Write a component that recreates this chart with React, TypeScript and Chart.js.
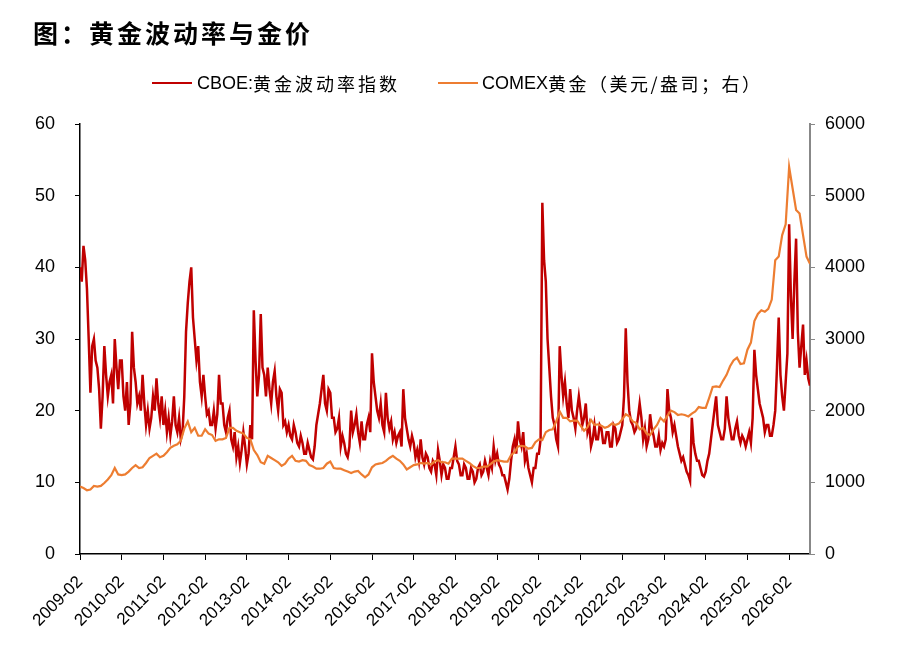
import { useEffect, useRef } from 'react'
import { Chart, ChartConfiguration, registerables } from 'chart.js'

Chart.register(...registerables)

// x axis: months counted from 2009-02 (0) to 2026-08 (210)
const tickLabels = [
  '2009-02', '2010-02', '2011-02', '2012-02', '2013-02', '2014-02',
  '2015-02', '2016-02', '2017-02', '2018-02', '2019-02', '2020-02',
  '2021-02', '2022-02', '2023-02', '2024-02', '2025-02', '2026-02',
]

// CBOE 黄金波动率指数, two readings per month (start, mid), one row = Feb..Jan
const cboeVol = [
  40, 38, 43, 41, 37, 30, 22.5, 29, 30, 27, 26, 23, 17.5, 22, 29, 25, 22, 24, 25, 21, 30, 26, 23, 27, // 2009
  27, 22, 20, 24, 18, 21, 31, 26, 24, 21, 22, 20, 25, 21, 18, 20, 17.5, 19, 22, 20, 24.5, 21, 19, 22, // 2010
  18, 20, 17, 19, 16.5, 18.5, 22, 18, 17, 19, 16, 17, 22, 31, 35, 38, 40, 33, 30, 27, 29, 24, 22, 25, // 2011
  22, 19.5, 20, 18, 18, 20, 17.5, 19.5, 25, 21, 21, 18, 17, 19, 20, 16, 15, 17, 13.5, 15, 12.7, 14.5, 17, 15, // 2012
  12.5, 14, 18, 16, 34, 27, 22, 25, 33.5, 26, 25, 22, 26, 23, 21, 24, 25.5, 22, 20, 23, 22.5, 18, 18.5, 17, // 2013
  18, 16.5, 16, 18, 17, 15.5, 15, 16.5, 15.5, 14, 14, 15.5, 14.5, 13.5, 13.2, 15, 18, 19.5, 21, 23, 25, 21, 20, 23, // 2014
  22.5, 19, 19, 17, 17.5, 19, 15, 16.5, 15.5, 14, 13.5, 15, 20, 17, 18, 19.5, 17, 15.5, 18.5, 16, 16, 18, 19, 17, // 2015
  28, 24, 22, 20, 19, 21, 18, 17, 22.5, 19, 17.5, 18.5, 16, 17, 15.5, 16.5, 17, 15, 23, 19, 17.5, 16, 15, 16.5, // 2016
  15.5, 13.5, 14.5, 13, 16, 13.5, 12.5, 14, 13.5, 12, 11.5, 13, 12.5, 11, 14.5, 13, 11, 12.5, 12, 10.5, 10.5, 12, 12, 13.5, // 2017
  15, 13, 12.5, 11, 11, 12.5, 12, 10.5, 10.5, 12, 11.5, 10, 10.5, 12, 12.5, 11, 11.5, 13, 12, 11, 13, 12, 15, 13, // 2018
  14, 12.5, 12, 11, 11, 10, 9, 10.5, 13, 15, 16, 14, 18.5, 16, 15, 17, 13, 14, 12, 11, 10, 12, 12, 14, // 2019
  14, 16, 49, 41, 38, 30, 26, 22, 19, 18, 16, 15, 29, 25, 22, 24, 21, 19, 23, 20, 19, 17.5, 20, 22, // 2020
  20, 18, 19, 21, 17, 18, 15, 16, 18, 16, 16, 18, 17.5, 15.5, 15.5, 17, 17, 15, 15, 18, 17.5, 15.5, 16, 17, // 2021
  18, 22, 31.5, 24, 20, 18.5, 18, 17, 17.5, 19, 21, 19, 16, 17.5, 15, 16, 19.5, 17.5, 16.5, 15, 15, 16.5, 14.5, 15.5, // 2022
  15, 16, 23, 20, 19, 17, 18, 16.5, 15, 14, 13, 13.5, 12.5, 11.5, 11, 10.2, 19, 15.5, 14, 13, 13, 12, 11, 10.8, // 2023
  11.5, 13, 14, 16, 18, 20, 22, 18, 17, 16, 16, 17.5, 22, 19, 17.5, 16, 16, 17.5, 18.5, 16.5, 15.5, 16.5, 16, 15, // 2024
  16, 17, 15.5, 19, 28.5, 25, 23, 21, 20, 19, 17, 18, 18, 16.5, 16.5, 18, 20, 26, 33, 25, 22, 20, 24, 28, // 2025
  46, 36, 30, 38, 44, 31, 26, 29, 32, 25, 27, 24.5, 23.5, // 2026
]

// COMEX 黄金 (美元/盎司), one reading per month, one row = Feb..Jan
const comexGold = [
  940, 920, 890, 900, 950, 940, 950, 990, 1040, 1100, 1200, 1110, // 2009
  1100, 1110, 1150, 1200, 1240, 1200, 1210, 1270, 1340, 1370, 1400, 1350, // 2010
  1370, 1420, 1480, 1510, 1530, 1580, 1750, 1850, 1700, 1760, 1650, 1650, // 2011
  1740, 1680, 1660, 1580, 1600, 1600, 1620, 1760, 1760, 1720, 1700, 1680, // 2012
  1620, 1600, 1450, 1380, 1280, 1260, 1370, 1340, 1310, 1280, 1230, 1260, // 2013
  1330, 1370, 1300, 1290, 1310, 1300, 1240, 1220, 1190, 1190, 1200, 1260, // 2014
  1290, 1200, 1190, 1190, 1170, 1150, 1130, 1150, 1160, 1110, 1070, 1110, // 2015
  1210, 1250, 1260, 1270, 1300, 1340, 1370, 1330, 1300, 1250, 1180, 1210, // 2016
  1240, 1250, 1270, 1260, 1270, 1250, 1290, 1310, 1280, 1280, 1260, 1330, // 2017
  1330, 1330, 1330, 1300, 1270, 1230, 1200, 1200, 1220, 1220, 1250, 1290, // 2018
  1310, 1300, 1290, 1290, 1380, 1420, 1500, 1510, 1500, 1470, 1480, 1560, // 2019
  1600, 1590, 1700, 1730, 1740, 1850, 1990, 1900, 1900, 1850, 1860, 1860, // 2020
  1790, 1720, 1770, 1870, 1800, 1810, 1790, 1760, 1780, 1820, 1800, 1820, // 2021
  1880, 1950, 1920, 1850, 1830, 1740, 1760, 1680, 1660, 1740, 1800, 1900, // 2022
  1850, 1930, 2000, 1980, 1940, 1950, 1940, 1920, 1960, 1990, 2050, 2040, // 2023
  2040, 2180, 2330, 2340, 2330, 2420, 2500, 2620, 2700, 2740, 2650, 2660, // 2024
  2850, 2950, 3250, 3350, 3400, 3380, 3420, 3550, 4100, 4150, 4450, 4600, // 2025
  5400, 5100, 4800, 4750, 4450, 4150, 4050, // 2026
]

const RED = '#C00000'
const ORANGE = '#ED7D31'
const tickFont = { family: "'Liberation Sans', Arial, sans-serif", size: 17 }

export default function App() {
  const chartRef = useRef<HTMLCanvasElement>(null)
  const chartInstance = useRef<Chart | null>(null)

  useEffect(() => {
    document.body.style.margin = '0'
    if (!chartRef.current) return
    if (chartInstance.current) chartInstance.current.destroy()

    const config: ChartConfiguration = {
      type: 'line',
      data: {
        datasets: [
          {
            label: 'CBOE:黄金波动率指数',
            data: cboeVol.map((v, i) => ({ x: i / 2, y: v })),
            borderColor: RED,
            borderWidth: 2.5,
            pointRadius: 0,
            yAxisID: 'y',
            order: 1,
          },
          {
            label: 'COMEX黄金（美元/盎司；右）',
            data: comexGold.map((v, i) => ({ x: i, y: v })),
            borderColor: ORANGE,
            borderWidth: 2.2,
            pointRadius: 0,
            yAxisID: 'y1',
            order: 0,
          },
        ],
      },
      options: {
        responsive: false,
        animation: false,
        layout: { padding: { top: 124, left: 0, right: 0, bottom: 0 } },
        plugins: { legend: { display: false }, title: { display: false }, tooltip: { enabled: false } },
        scales: {
          x: {
            type: 'linear',
            min: 0,
            max: 210,
            afterFit: (scale: any) => { scale.height = 96 },
            ticks: {
              stepSize: 12,
              includeBounds: false,
              autoSkip: false,
              maxRotation: 45,
              minRotation: 45,
              padding: 12,
              color: '#000',
              font: tickFont,
              callback: (v: any) => tickLabels[Math.round(Number(v) / 12)] ?? '',
            },
            grid: { drawOnChartArea: false, drawTicks: true, tickLength: 6, color: '#000' },
            border: { color: '#000', width: 1.5 },
          },
          y: {
            position: 'left',
            min: 0,
            max: 60,
            afterFit: (scale: any) => { scale.width = 80 },
            ticks: { stepSize: 10, padding: 20, color: '#000', font: { ...tickFont, size: 18 } },
            grid: { drawOnChartArea: false, tickLength: 5, color: '#000' },
            border: { color: '#000', width: 1.5 },
          },
          y1: {
            position: 'right',
            min: 0,
            max: 6000,
            afterFit: (scale: any) => { scale.width = 89 },
            ticks: {
              stepSize: 1000,
              padding: 10,
              color: '#000',
              font: { ...tickFont, size: 18 },
              callback: (v: any) => String(v),
            },
            grid: { drawOnChartArea: false, tickLength: 5, color: '#888' },
            border: { color: '#888', width: 2 },
          },
        },
      },
    }

    chartInstance.current = new Chart(chartRef.current, config)
    return () => {
      if (chartInstance.current) chartInstance.current.destroy()
    }
  }, [])

  const cjk = "'Noto Sans CJK SC', 'Noto Sans', sans-serif"
  const latin = "'Liberation Sans', Arial, sans-serif"

  return (
    <div style={{ position: 'relative', width: 899, height: 650, background: '#fff' }}>
      <canvas ref={chartRef} width={899} height={650} />
      <div style={{ position: 'absolute', left: 33, top: 15, fontFamily: cjk, fontWeight: 700, fontSize: 25, letterSpacing: 3, lineHeight: '34px', color: '#000' }}>
        图：黄金波动率与金价
      </div>
      <div style={{ position: 'absolute', left: 152, top: 71, height: 24, display: 'flex', alignItems: 'center', color: '#000' }}>
        <span style={{ width: 40, height: 2.5, background: RED, display: 'inline-block' }} />
        <span style={{ marginLeft: 5, fontFamily: latin, fontSize: 18 }}>CBOE:</span>
        <span style={{ fontFamily: cjk, fontSize: 18, letterSpacing: 3 }}>黄金波动率指数</span>
        <span style={{ marginLeft: 38, width: 40, height: 2.5, background: ORANGE, display: 'inline-block' }} />
        <span style={{ marginLeft: 4, fontFamily: latin, fontSize: 18 }}>COMEX</span>
        <span style={{ fontFamily: cjk, fontSize: 18, letterSpacing: 2.5 }}>黄金（美元/盎司；右）</span>
      </div>
    </div>
  )
}
